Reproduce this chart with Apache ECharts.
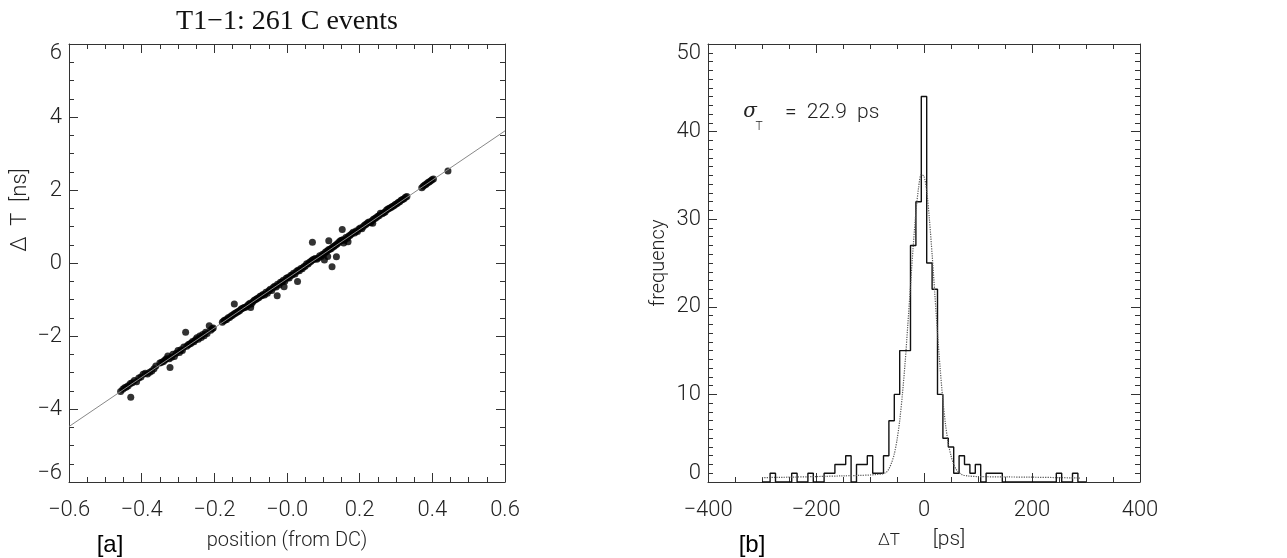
<!DOCTYPE html>
<html>
<head>
<meta charset="utf-8">
<script src="https://cdn.jsdelivr.net/npm/echarts@6/dist/echarts.min.js"></script>
<style>
html,body{margin:0;padding:0;background:#fff;}
#c{width:1287px;height:558px;}
</style>
</head>
<body>
<div id="c"></div>
<script>
// ---------- Panel [a] : delta T vs position ----------
const leftXTickLabels = ['−0.6','−0.4','−0.2','−0.0','0.2','0.4','0.6'];
const leftYTickLabels = ['−6','−4','−2','0','2','4','6'];
const eventPoints = [
  [-0.458,-3.52],[-0.452,-3.46],[-0.447,-3.42],[-0.442,-3.40],[-0.437,-3.36],[-0.431,-3.30],
  [-0.430,-3.68],[-0.426,-3.28],[-0.420,-3.22],[-0.414,-3.25],[-0.408,-3.15],[-0.402,-3.12],
  [-0.396,-3.05],[-0.390,-3.02],[-0.384,-3.04],[-0.378,-2.99],[-0.372,-2.96],[-0.366,-2.90],
  [-0.361,-2.82],
  [-0.350,-2.74],[-0.345,-2.72],[-0.340,-2.70],[-0.336,-2.66],[-0.332,-2.62],[-0.328,-2.55],
  [-0.324,-2.62],[-0.322,-2.86],[-0.318,-2.58],[-0.314,-2.50],[-0.310,-2.56],[-0.305,-2.47],
  [-0.300,-2.40],[-0.296,-2.45],[-0.292,-2.38],[-0.288,-2.40],[-0.284,-2.30],[-0.279,-1.90],
  [-0.276,-2.28],[-0.272,-2.24],[-0.268,-2.22],[-0.264,-2.20],[-0.260,-2.15],[-0.256,-2.16],
  [-0.252,-2.10],[-0.248,-2.05],[-0.244,-2.09],[-0.240,-2.00],[-0.236,-2.04],[-0.232,-1.96],
  [-0.228,-1.99],[-0.224,-1.90],[-0.220,-1.93],[-0.214,-1.72],[-0.210,-1.84],[-0.206,-1.80],
  [-0.203,-1.78],
  [-0.178,-1.62],[-0.174,-1.58],[-0.170,-1.56],[-0.166,-1.55],[-0.162,-1.50],[-0.158,-1.49],
  [-0.154,-1.45],[-0.150,-1.43],[-0.146,-1.40],[-0.145,-1.12],[-0.142,-1.38],[-0.138,-1.35],
  [-0.134,-1.33],[-0.130,-1.30],[-0.126,-1.26],[-0.122,-1.24],[-0.118,-1.22],[-0.114,-1.21],
  [-0.110,-1.18],[-0.106,-1.14],[-0.102,-1.10],[-0.100,-1.22],[-0.098,-1.12],[-0.094,-1.06],
  [-0.090,-1.02],[-0.086,-1.00],[-0.082,-0.97],[-0.078,-0.95],[-0.074,-0.91],[-0.070,-0.90],
  [-0.066,-0.86],[-0.062,-0.88],[-0.058,-0.80],[-0.054,-0.83],[-0.050,-0.76],[-0.046,-0.72],
  [-0.042,-0.75],[-0.038,-0.67],[-0.034,-0.64],[-0.030,-0.66],[-0.027,-0.90],[-0.026,-0.58],
  [-0.022,-0.60],[-0.018,-0.53],[-0.014,-0.52],[-0.010,-0.47],[-0.008,-0.65],[-0.006,-0.50],
  [-0.002,-0.42],[0.002,-0.40],[0.006,-0.41],[0.010,-0.34],[0.014,-0.33],[0.018,-0.28],
  [0.022,-0.30],[0.026,-0.23],[0.029,-0.51],[0.030,-0.20],[0.034,-0.21],[0.038,-0.15],
  [0.042,-0.16],[0.046,-0.10],[0.050,-0.09],[0.054,-0.02],[0.058,-0.03],[0.062,0.02],
  [0.066,0.05],[0.070,0.57],[0.070,0.08],[0.074,0.10],[0.078,0.12],[0.082,0.10],
  [0.086,0.14],[0.090,0.20],[0.094,0.18],[0.103,0.08],[0.098,0.24],[0.102,0.25],
  [0.106,0.30],[0.110,0.32],[0.112,0.18],[0.114,0.36],[0.115,0.61],[0.118,0.38],
  [0.122,0.40],[0.124,-0.10],[0.126,0.44],[0.130,0.46],[0.134,0.49],[0.136,0.17],
  [0.138,0.52],[0.142,0.56],[0.146,0.60],[0.150,0.62],[0.152,0.92],[0.154,0.64],
  [0.156,0.55],[0.158,0.62],[0.162,0.70],[0.166,0.68],[0.168,0.58],[0.170,0.74],
  [0.174,0.76],[0.178,0.80],[0.182,0.84],[0.186,0.82],[0.190,0.88],[0.194,0.86],
  [0.198,0.93],[0.202,0.96],[0.206,0.94],[0.210,1.00],[0.214,1.04],[0.218,1.06],
  [0.222,1.10],[0.226,1.12],[0.230,1.10],[0.234,1.16],[0.236,1.09],[0.238,1.20],
  [0.242,1.22],[0.246,1.25],[0.250,1.28],[0.254,1.30],[0.257,1.36],[0.262,1.35],
  [0.266,1.38],[0.270,1.40],[0.274,1.45],[0.278,1.48],[0.282,1.50],[0.286,1.52],
  [0.290,1.55],[0.294,1.57],[0.298,1.60],[0.302,1.62],[0.306,1.66],[0.310,1.68],
  [0.314,1.72],[0.318,1.74],[0.322,1.76],[0.326,1.80],[0.330,1.82],
  [0.371,2.06],[0.375,2.10],[0.379,2.14],[0.383,2.16],[0.387,2.20],[0.391,2.22],
  [0.395,2.25],[0.399,2.28],[0.403,2.30],[0.443,2.52]
];
const fitLine = [[-0.6,-4.48],[0.6,3.62]];

// ---------- Panel [b] : histogram of delta T ----------
const rightXTickLabels = ['−400','−200','0','200','400'];
const rightYTickLabels = ['0','10','20','30','40','50'];
const binCenters = [-300,-290,-280,-270,-260,-250,-240,-230,-220,-210,-200,-190,-180,-170,-160,-150,
  -140,-130,-120,-110,-100,-90,-80,-70,-60,-50,-40,-30,-20,-10,0,10,20,30,40,50,60,70,80,90,100,
  110,120,130,140,150,160,170,180,190,200,210,220,230,240,250,260,270,280,290,300];
const binCounts = [0,0,1,0,0,0,1,0,0,1,0,0,1,1,2,2,
  3,0,2,2,3,1,1,3,7,10,15,15,27,32,44,25,22,10,5,4,1,3,2,1,2,
  0,1,1,1,0,0,0,0,0,0,0,0,0,0,1,0,0,1,0,0];
const gaussX = [-300,-250,-200,-150,-120,-100,-90,-80,-70,-65,-60,-55,-50,-45,-40,-35,-30,-25,-20,-15,-10,-5,
  0,5,10,15,20,25,30,35,40,45,50,55,60,70,80,100,150,200,250,290];
const gaussY = [0.5,0.55,0.62,0.7,0.75,0.8,0.85,0.9,1.1,1.5,2.2,3.2,4.8,7.0,10.0,13.6,17.9,22.4,26.9,30.8,33.6,35.1,
  34.9,33.2,30.0,26.0,21.5,17.0,12.9,9.3,6.5,4.4,3.0,2.0,1.4,0.85,0.7,0.62,0.58,0.55,0.5,0.45];

const chart = echarts.init(document.getElementById('c'), null, {renderer:'canvas'});
const AX = '#333';
const FS = 22;
const LBL = {fontFamily:'Roboto', fontWeight:300, fontSize:FS, color:'#222'};

function mkX(grid, pos, min, max, interval, split, labels) {
  return {
    type:'value', gridIndex:grid, position:pos, min:min, max:max, interval:interval,
    axisLine:{show:true, onZero:false, lineStyle:{color:AX, width:1}},
    axisTick:{show:true, inside:true, length:9, lineStyle:{color:AX}},
    minorTick:{show:true, splitNumber:split, length:5, lineStyle:{color:AX}},
    splitLine:{show:false}, minorSplitLine:{show:false},
    axisLabel: labels ? Object.assign({show:true, margin:17,
      formatter:(v)=>labels[Math.round((v-min)/interval)]}, LBL) : {show:false}
  };
}
function mkY(grid, pos, min, max, interval, split, labels) {
  const last = labels ? labels.length-1 : 0;
  return {
    type:'value', gridIndex:grid, position:pos, min:min, max:max, interval:interval,
    axisLine:{show:true, onZero:false, lineStyle:{color:AX, width:1}},
    axisTick:{show:true, inside:true, length:9, lineStyle:{color:AX}},
    minorTick:{show:true, splitNumber:split, length:5, lineStyle:{color:AX}},
    splitLine:{show:false}, minorSplitLine:{show:false},
    axisLabel: labels ? Object.assign({show:true, margin:7,
      formatter:(v)=>{const i=Math.round((v-min)/interval); const t=labels[i];
        if(i===0) return '{lo|'+t+'}'; if(i===last) return '{hi|'+t+'}'; return t;},
      rich:{lo:{padding:[0,0,18,0], fontFamily:'Roboto', fontWeight:300, fontSize:FS, color:'#222'},
            hi:{padding:[18,0,0,0], fontFamily:'Roboto', fontWeight:300, fontSize:FS, color:'#222'}}
    }, LBL) : {show:false}
  };
}

const txt = (o) => ({type:'text', silent:true, ...o});

chart.setOption({
  animation:false,
  backgroundColor:'#fff',
  grid:[
    {left:69, top:44, width:436, height:438, containLabel:false},
    {left:708, top:44, width:432, height:438, containLabel:false}
  ],
  xAxis:[
    mkX(0,'bottom',-0.6,0.6,0.2,4,leftXTickLabels),
    mkX(0,'top',-0.6,0.6,0.2,4,null),
    mkX(1,'bottom',-400,400,200,4,rightXTickLabels),
    mkX(1,'top',-400,400,200,4,null)
  ],
  yAxis:[
    mkY(0,'left',-6,6,2,4,leftYTickLabels),
    mkY(0,'right',-6,6,2,4,null),
    mkY(1,'left',0,50,10,10,rightYTickLabels),
    mkY(1,'right',0,50,10,10,null)
  ],
  series:[
    {type:'scatter', xAxisIndex:0, yAxisIndex:0, data:eventPoints, symbol:'circle', symbolSize:7,
     itemStyle:{color:'#000'}, z:2},
    {type:'line', xAxisIndex:0, yAxisIndex:0, data:fitLine, showSymbol:false,
     lineStyle:{color:'#888', width:1}, z:3},
    {type:'line', xAxisIndex:2, yAxisIndex:2, data:binCenters.map((x,i)=>[x,binCounts[i]]),
     step:'middle', showSymbol:false, lineStyle:{color:'#111', width:1.4}, z:3},
    {type:'line', xAxisIndex:2, yAxisIndex:2, data:gaussX.map((x,i)=>[x,gaussY[i]]),
     smooth:0.3, showSymbol:false, lineStyle:{color:'#555', width:1.2, type:'dotted'}, z:4}
  ],
  graphic:[
    txt({x:287, y:22, style:{text:'T1−1: 261 C events', font:'28px "Liberation Serif"', fill:'#111', align:'center', verticalAlign:'middle'}}),
    txt({x:20, y:210, rotation:Math.PI/2, style:{text:'Δ  T  [ns]', font:'300 22px Roboto', fill:'#222', align:'center', verticalAlign:'middle'}}),
    txt({x:287, y:541, style:{text:'position (from DC)', font:'300 20px Roboto', fill:'#222', align:'center', verticalAlign:'middle'}}),
    txt({x:110, y:545, style:{text:'[a]', font:'24px "Liberation Sans"', fill:'#000', align:'center', verticalAlign:'middle'}}),
    txt({x:659, y:263, rotation:Math.PI/2, style:{text:'frequency', font:'300 20px Roboto', fill:'#222', align:'center', verticalAlign:'middle'}}),
    txt({x:889, y:541, style:{text:'ΔT', font:'300 17px Roboto', fill:'#222', align:'center', verticalAlign:'middle'}}),
    txt({x:949, y:540, style:{text:'[ps]', font:'300 21px Roboto', fill:'#222', align:'center', verticalAlign:'middle'}}),
    txt({x:752, y:545, style:{text:'[b]', font:'24px "Liberation Sans"', fill:'#000', align:'center', verticalAlign:'middle'}}),
    txt({x:750, y:112, style:{text:'σ', font:'italic 20px "DejaVu Serif"', fill:'#222', align:'center', verticalAlign:'middle'}}),
    txt({x:759, y:127, style:{text:'T', font:'300 12px Roboto', fill:'#222', align:'center', verticalAlign:'middle'}}),
    txt({x:785, y:113, style:{text:'=  22.9  ps', font:'300 21px Roboto', fill:'#222', align:'left', verticalAlign:'middle'}})
  ]
});
</script>
</body>
</html>
